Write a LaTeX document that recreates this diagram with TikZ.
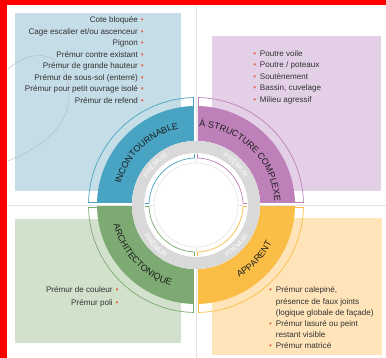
\documentclass[tikz,border=0pt]{standalone}
\usepackage{fontspec}
\setmainfont{Liberation Sans}
\usetikzlibrary{decorations.text}
\definecolor{cblue}{RGB}{72,164,194}
\definecolor{cpurple}{RGB}{190,128,185}
\definecolor{cgreen}{RGB}{125,170,115}
\definecolor{corange}{RGB}{250,190,70}
\definecolor{lblue}{RGB}{197,221,231}
\definecolor{lpurple}{RGB}{227,208,231}
\definecolor{lgreen}{RGB}{209,225,203}
\definecolor{lorange}{RGB}{255,228,185}
\definecolor{gring}{RGB}{217,217,217}
\definecolor{bul}{RGB}{232,100,70}
\definecolor{txt}{RGB}{50,50,50}
\definecolor{rtxt}{RGB}{30,30,30}
\definecolor{divider}{RGB}{228,228,228}
\newcommand\ringfnt{\fontsize{9}{9}\selectfont\color{rtxt}}
\newcommand\premfnt{\fontsize{7}{7}\selectfont\color{white}}
\begin{document}
\begin{tikzpicture}[x=1pt,y=1pt,
  lbl/.style={font=\fontsize{8.1}{9}\selectfont, text=txt, inner sep=0pt},
  outl/.style={line width=0.7pt},
  inarc/.style={line width=0.7pt},
  rtext/.style={decorate, decoration={text along path, text align=center, text={#1}}}]
\useasboundingbox (-196,-153) rectangle (190,205);
% red border
\fill[red] (-196,-153) rectangle (-188.5,205);
\fill[red] (-196,200) rectangle (190,205);
% dividers
\draw[divider, line width=0.7pt] (0,200) -- (0,-153);
\draw[divider, line width=0.7pt] (-188.5,0) -- (190,0);
% background boxes
\fill[lblue] (-181,14) rectangle (-15,192);
\fill[lpurple] (16,14) rectangle (185,169);
\fill[lgreen] (-181,-14) rectangle (-15,-138);
\fill[lorange] (16,-13) rectangle (186,-150);
% decorative curve
\draw[gray!55, line width=0.4pt] (-188,136) .. controls (-160,160) and (-128,152) .. (-127,112)
  .. controls (-126,80) and (-150,60) .. (-188,44);
% coloured ring quadrants
\begin{scope}\clip (-200,2) rectangle (-2,200);
  \fill[cblue, even odd rule] (0,0) circle[radius=99] (0,0) circle[radius=64];\end{scope}
\begin{scope}\clip (2,2) rectangle (200,200);
  \fill[cpurple, even odd rule] (0,0) circle[radius=99] (0,0) circle[radius=64];\end{scope}
\begin{scope}\clip (-200,-2) rectangle (-2,-200);
  \fill[cgreen, even odd rule] (0,0) circle[radius=99] (0,0) circle[radius=64];\end{scope}
\begin{scope}\clip (2,-2) rectangle (200,-200);
  \fill[corange, even odd rule] (0,0) circle[radius=99] (0,0) circle[radius=64];\end{scope}
% centre
\fill[white] (0,0) circle[radius=64];
\fill[gring, even odd rule] (0,0) circle[radius=64] (0,0) circle[radius=52];
\draw[gray!22, line width=0.6pt] (0,0) circle[radius=42];
\draw[gray!22, line width=0.6pt] (0,42) -- (0,47) (0,-42) -- (0,-47) (42,0) -- (47,0) (-42,0) -- (-47,0);
% inner coloured arcs
\draw[cblue, inarc] (-1.5,51) -- (91.83:47) arc[start angle=91.83, end angle=178.17, radius=47] -- (-51,1.5);
\draw[cpurple, inarc] (1.5,51) -- (88.17:47) arc[start angle=88.17, end angle=1.83, radius=47] -- (51,1.5);
\draw[cgreen, inarc] (-1.5,-51) -- (268.17:47) arc[start angle=268.17, end angle=181.83, radius=47] -- (-51,-1.5);
\draw[corange, inarc] (1.5,-51) -- (271.83:47) arc[start angle=271.83, end angle=358.17, radius=47] -- (51,-1.5);
% outer outlines
\draw[cblue, outl] (-2.5,98.97) -- (91.33:107.5) arc[start angle=91.33, end angle=178.67, radius=107.5] -- (-98.97,2.5);
\draw[cpurple, outl] (2.5,98.97) -- (88.67:107.5) arc[start angle=88.67, end angle=1.33, radius=107.5] -- (98.97,2.5);
\draw[cgreen, outl] (-2.5,-98.97) -- (268.67:107.5) arc[start angle=268.67, end angle=181.33, radius=107.5] -- (-98.97,-2.5);
\draw[corange, outl] (2.5,-98.97) -- (271.33:107.5) arc[start angle=271.33, end angle=358.67, radius=107.5] -- (98.97,-2.5);
% ring texts
\path[rtext={|\ringfnt|INCONTOURNABLE}] (178.5:78.3) arc[start angle=178.5, end angle=88.5, radius=78.3];
\path[rtext={|\ringfnt|À STRUCTURE COMPLEXE}] (92:78.3) arc[start angle=92, end angle=-2, radius=78.3];
\path[rtext={|\ringfnt|ARCHITECTONIQUE}] (178:84.7) arc[start angle=178, end angle=268, radius=84.7];
\path[rtext={|\ringfnt|APPARENT}] (272:84.7) arc[start angle=272, end angle=362, radius=84.7];
% PREMUR labels
\path[rtext={|\premfnt|PRÉMUR}] (166:55.5) arc[start angle=166, end angle=106, radius=55.5];
\path[rtext={|\premfnt|PRÉMUR}] (75:55.5) arc[start angle=75, end angle=15, radius=55.5];
\path[rtext={|\premfnt|PRÉMUR}] (195:60.5) arc[start angle=195, end angle=255, radius=60.5];
\path[rtext={|\premfnt|PRÉMUR}] (285:60.5) arc[start angle=285, end angle=345, radius=60.5];
% top-left list
\foreach \t [count=\i from 0] in {Cote bloquée, Cage escalier et/ou ascenceur, Pignon, Prémur contre existant, Prémur de grande hauteur, Prémur de sous-sol (enterré), Prémur pour petit ouvrage isolé, Prémur de refend}
  \node[lbl, anchor=base east] (tl\i) at (-52,{182-11.43*\i}) {\t\hspace{3pt}{\color{bul}•}};
% top-right list
\foreach \t [count=\i from 0] in {Poutre voile, Poutre / poteaux, Soutènement, {Bassin, cuvelage}, Milieu agressif}
  \node[lbl, anchor=base west] (tr\i) at (57.3,{148.7-11.5*\i}) {{\color{bul}•}\hspace{3.6pt}\t};
% bottom-left list
\node[lbl, anchor=base east] (bl0) at (-77.3,-88) {Prémur de couleur\hspace{3pt}{\color{bul}•}};
\node[lbl, anchor=base east] (bl1) at (-77.3,-100.5) {Prémur poli\hspace{3pt}{\color{bul}•}};
% bottom-right list
\node[lbl, anchor=base west] (br0) at (72.9,-88) {{\color{bul}•}\hspace{4pt}Prémur calepiné,};
\node[lbl, anchor=base west] (br1) at (72.9,-99.1) {\phantom{•}\hspace{4pt}présence de faux joints};
\node[lbl, anchor=base west] (br2) at (72.9,-110.2) {\phantom{•}\hspace{4pt}(logique globale de façade)};
\node[lbl, anchor=base west] (br3) at (72.9,-121.3) {{\color{bul}•}\hspace{4pt}Prémur lasuré ou peint};
\node[lbl, anchor=base west] (br4) at (72.9,-132.4) {\phantom{•}\hspace{4pt}restant visible};
\node[lbl, anchor=base west] (br5) at (72.9,-143.5) {{\color{bul}•}\hspace{4pt}Prémur matricé};
\end{tikzpicture}
\end{document}
